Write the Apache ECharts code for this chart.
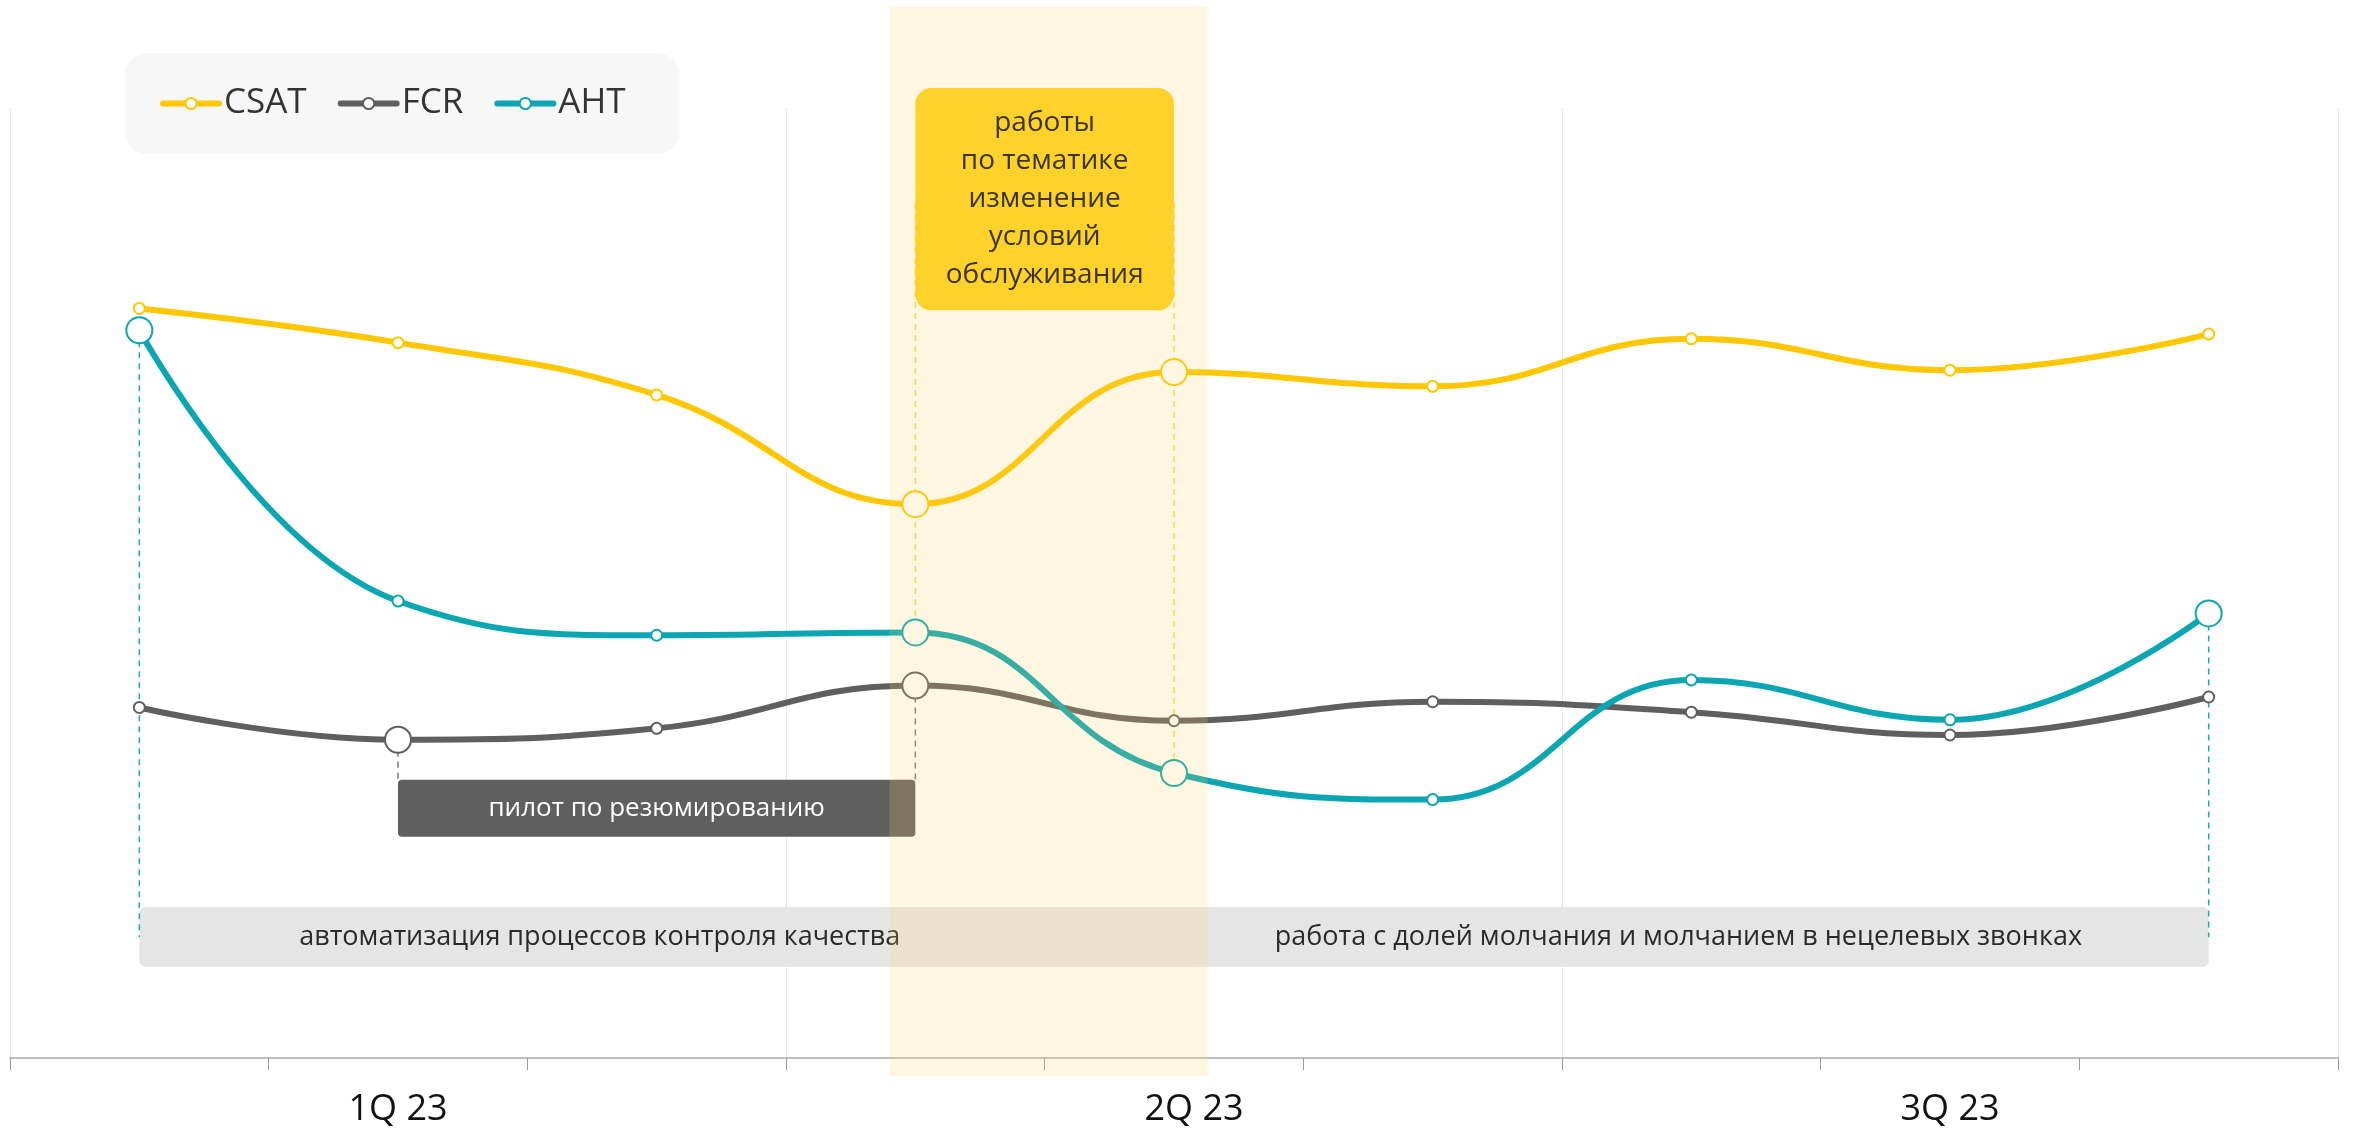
<!DOCTYPE html>
<html><head><meta charset="utf-8">
<script src="https://cdn.jsdelivr.net/npm/echarts@6/dist/echarts.min.js"></script>
<style>html,body{margin:0;padding:0;background:#fff}#c{width:2353px;height:1131px}</style>
</head><body><div id="c"></div>
<script>
// ---- data ----
const categories = ['Янв 23','Фев 23','Мар 23','Апр 23','Май 23','Июн 23','Июл 23','Авг 23','Сен 23'];
const tickLabels = ['', '1Q 23', '', '', '2Q 23', '', '', '3Q 23', ''];
const seriesNames = ['CSAT', 'FCR', 'AHT'];
const csat = [78.9, 75.3, 69.8, 58.3, 72.2, 70.7, 75.7, 72.4, 76.2];
const fcr  = [36.9, 33.5, 34.7, 39.2, 35.5, 37.5, 36.4, 34.0, 38.0];
const aht  = [76.6, 48.1, 44.5, 44.8, 30.0, 27.2, 39.8, 35.6, 46.8];
const csatHighlight = [3, 4];
const fcrHighlight  = [1, 3];
const ahtHighlight  = [0, 3, 4, 8];
const noteText = ['работы', 'по тематике', 'изменение', 'условий', 'обслуживания'];
const pilotText = 'пилот по резюмированию';
const qaText = 'автоматизация процессов контроля качества';
const silenceText = 'работа с долей молчания и молчанием в нецелевых звонках';

// ---- layout of annotations (in axis units) ----
const FONT = '"Open Sans", "Noto Sans", sans-serif';
const boxes = [
  {x: [0, 8], y: [9.6, 15.9], fill: '#e5e5e5', r: 6},
  {x: [1, 3], y: [23.3, 29.3], fill: '#5f5f5f', r: 4}
];
const boxTexts = [
  {x: 1.78, y: 12.75, text: qaText, color: '#2a2a2a', size: 27},
  {x: 5.95, y: 12.75, text: silenceText, color: '#2a2a2a', size: 27},
  {x: 2.0, y: 26.3, text: pilotText, color: '#ffffff', size: 26}
];
const guides = [
  {x: 0, from: aht[0], to: 12.7, color: '#1fa8b3'},
  {x: 8, from: aht[8], to: 12.7, color: '#1fa8b3'},
  {x: 1, from: fcr[1], to: 29.3, color: '#7a7a7a'},
  {x: 3, from: fcr[3], to: 29.3, color: '#7a7a7a'},
  {x: 3, from: 90, to: aht[3], color: '#ffd34d'},
  {x: 4, from: 90, to: aht[4], color: '#ffd34d'}
];
const band = {x: [2.9, 4.13], y: [-1.9, 110.7]};
const note = {x: [3, 4], y: [78.7, 102.1]};

const chart = echarts.init(document.getElementById('c'), null, {renderer: 'canvas'});

function lineSeries(name, data, color, hi) {
  return {
    name, type: 'line', data, smooth: 0.45, z: 3,
    symbol: 'emptyCircle',
    symbolSize: (v, p) => hi.includes(p.dataIndex) ? 26 : 11,
    lineStyle: {color, width: 6},
    itemStyle: {color, borderWidth: 2.5},
    emphasis: {disabled: true}
  };
}

const option = {
  animation: false,
  backgroundColor: '#fff',
  grid: {left: 10, right: 15, top: 108, bottom: 73},
  legend: {
    data: seriesNames, left: 125, top: 53,
    padding: [33, 54, 33, 35], backgroundColor: '#f7f7f7', borderRadius: 22,
    itemWidth: 56, itemHeight: 14, itemGap: 31,
    lineStyle: {width: 6, cap: 'round'},
    itemStyle: {borderWidth: 2.5},
    textStyle: {fontSize: 35, color: '#333', fontFamily: FONT}
  },
  xAxis: [{
    type: 'category', data: categories, boundaryGap: true,
    axisLine: {lineStyle: {color: '#bfbfbf', width: 2}},
    axisTick: {show: true, interval: 0, length: 12, lineStyle: {color: '#9a9a9a', width: 1}},
    splitLine: {show: true, interval: (i) => i % 3 === 0, lineStyle: {color: '#d6d6d6', type: 'dotted', width: 1}},
    axisLabel: {
      interval: 0, margin: 34, fontSize: 36, color: '#111', fontFamily: FONT,
      formatter: (v, i) => tickLabels[i] === '2Q 23' ? '{q|' + tickLabels[i] + '}' : tickLabels[i],
      rich: {q: {fontSize: 36, color: '#111', fontFamily: FONT, padding: [0, 0, 0, 40]}}
    }
  }, {
    type: 'value', min: -0.5, max: 8.5, show: false
  }],
  yAxis: {type: 'value', min: 0, max: 100, show: false},
  series: [
    {
      type: 'custom', name: 'boxes', xAxisIndex: 1, z: 1, silent: true,
      data: boxes.map(b => [b.x[0], b.x[1], b.y[0], b.y[1]]),
      renderItem: (params, api) => {
        const b = boxes[params.dataIndex];
        const p0 = api.coord([api.value(0), api.value(3)]);
        const p1 = api.coord([api.value(1), api.value(2)]);
        return {type: 'rect', shape: {x: p0[0], y: p0[1], width: p1[0] - p0[0], height: p1[1] - p0[1], r: b.r}, style: {fill: b.fill}};
      }
    },
    {
      type: 'custom', name: 'boxTexts', xAxisIndex: 1, z: 1, silent: true,
      data: boxTexts.map(t => [t.x, t.y]),
      renderItem: (params, api) => {
        const t = boxTexts[params.dataIndex];
        const p = api.coord([api.value(0), api.value(1)]);
        return {type: 'text', z2: 10, style: {x: p[0], y: p[1], text: t.text, fill: t.color, align: 'center', verticalAlign: 'middle', fontSize: t.size, fontFamily: FONT}};
      }
    },
    {
      type: 'custom', name: 'guides', xAxisIndex: 1, z: 2, silent: true,
      data: guides.map(g => [g.x, g.from, g.to]),
      renderItem: (params, api) => {
        const g = guides[params.dataIndex];
        const a = api.coord([api.value(0), api.value(1)]);
        const b = api.coord([api.value(0), api.value(2)]);
        return {type: 'line', shape: {x1: a[0], y1: a[1], x2: b[0], y2: b[1]}, style: {stroke: g.color, lineWidth: 1.5, lineDash: [6, 5]}};
      }
    },
    lineSeries('CSAT', csat, '#ffc700', csatHighlight),
    lineSeries('FCR', fcr, '#5f5f5f', fcrHighlight),
    lineSeries('AHT', aht, '#0ba6b1', ahtHighlight),
    {
      type: 'custom', name: 'band', xAxisIndex: 1, z: 5, silent: true,
      data: [[band.x[0], band.x[1], band.y[0], band.y[1]]],
      renderItem: (params, api) => {
        const p0 = api.coord([api.value(0), api.value(3)]);
        const p1 = api.coord([api.value(1), api.value(2)]);
        return {type: 'rect', shape: {x: p0[0], y: p0[1], width: p1[0] - p0[0], height: p1[1] - p0[1]}, style: {fill: 'rgba(255,211,100,0.19)'}};
      }
    },
    {
      type: 'custom', name: 'note', xAxisIndex: 1, z: 6, silent: true,
      data: [[note.x[0], note.x[1], note.y[0], note.y[1]]],
      renderItem: (params, api) => {
        const p0 = api.coord([api.value(0), api.value(3)]);
        const p1 = api.coord([api.value(1), api.value(2)]);
        return {type: 'group', children: [
          {type: 'rect', shape: {x: p0[0], y: p0[1], width: p1[0] - p0[0], height: p1[1] - p0[1], r: 16}, style: {fill: '#ffd12b'}},
          {type: 'text', style: {x: (p0[0] + p1[0]) / 2, y: (p0[1] + p1[1]) / 2, text: noteText.join('\n'), fill: '#3a3522', align: 'center', verticalAlign: 'middle', fontSize: 28, lineHeight: 38, fontFamily: FONT}}
        ]};
      }
    }
  ]
};
chart.setOption(option);
</script></body></html>
